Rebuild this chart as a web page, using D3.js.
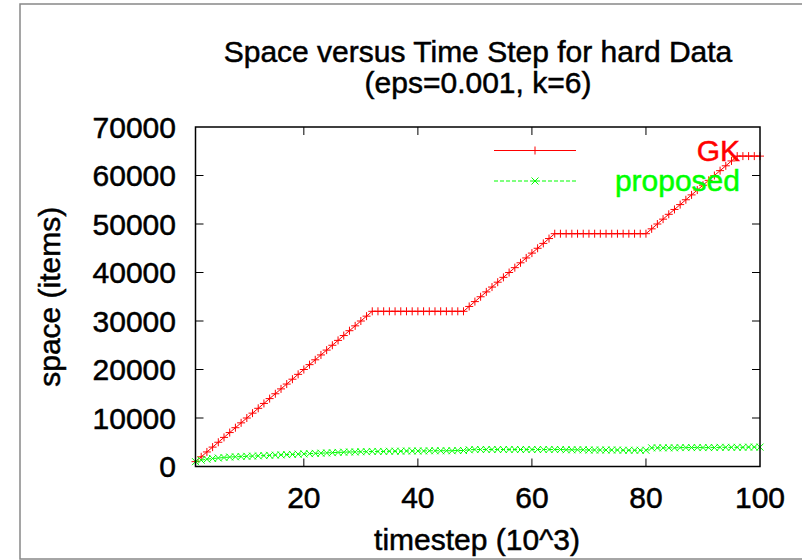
<!DOCTYPE html>
<html>
<head>
<meta charset="utf-8">
<script src="https://cdn.jsdelivr.net/npm/d3@7"></script>
<style>
  body { margin: 0; background: #fff; }
  svg { display: block; font-family: "Liberation Sans", Arial, sans-serif; }
</style>
</head>
<body>
<div id="chart"></div>
<script>
// timestep in units of 10^3
const timesteps = [
  1, 2, 3, 4, 5, 6, 7, 8, 9, 10, 11, 12, 13, 14, 15, 16, 17, 18, 19, 20,
  21, 22, 23, 24, 25, 26, 27, 28, 29, 30, 31, 32, 33, 34, 35, 36, 37, 38, 39, 40,
  41, 42, 43, 44, 45, 46, 47, 48, 49, 50, 51, 52, 53, 54, 55, 56, 57, 58, 59, 60,
  61, 62, 63, 64, 65, 66, 67, 68, 69, 70, 71, 72, 73, 74, 75, 76, 77, 78, 79, 80,
  81, 82, 83, 84, 85, 86, 87, 88, 89, 90, 91, 92, 93, 94, 95, 96, 97, 98, 99, 100
];

const gkSpace = [
  1000, 2000, 3000, 4000, 5000, 6000, 7000, 8000, 9000, 10000,
  11000, 12000, 13000, 14000, 15000, 16000, 17000, 18000, 19000, 20000,
  21000, 22000, 23000, 24000, 25000, 26000, 27000, 28000, 29000, 30000,
  31000, 32000, 32000, 32000, 32000, 32000, 32000, 32000, 32000, 32000,
  32000, 32000, 32000, 32000, 32000, 32000, 32000, 32000, 33000, 34000,
  35000, 36000, 37000, 38000, 39000, 40000, 41000, 42000, 43000, 44000,
  45000, 46000, 47000, 48000, 48000, 48000, 48000, 48000, 48000, 48000,
  48000, 48000, 48000, 48000, 48000, 48000, 48000, 48000, 48000, 48000,
  49000, 50000, 51000, 52000, 53000, 54000, 55000, 56000, 57000, 58000,
  59000, 60000, 61000, 62000, 63000, 64000, 64000, 64000, 64000, 64000
];

const proposedSpace = [
  1000, 1300, 1500, 1650, 1750, 1850, 1950, 2000, 2050, 2100,
  2150, 2200, 2250, 2300, 2350, 2400, 2450, 2500, 2550, 2600,
  2650, 2700, 2750, 2800, 2850, 2900, 2950, 3000, 3000, 3050,
  3050, 3100, 3100, 3100, 3150, 3150, 3150, 3200, 3200, 3200,
  3200, 3250, 3250, 3250, 3250, 3250, 3300, 3300, 3450, 3500,
  3500, 3500, 3500, 3500, 3500, 3500, 3500, 3500, 3500, 3500,
  3500, 3500, 3500, 3500, 3500, 3450, 3450, 3450, 3450, 3400,
  3400, 3400, 3400, 3400, 3400, 3350, 3350, 3350, 3350, 3350,
  3850, 3850, 3850, 3850, 3850, 3900, 3900, 3900, 3900, 3900,
  3900, 3900, 3950, 3950, 3950, 3950, 3950, 4000, 4000, 4000
];

const xTicks = [20, 40, 60, 80, 100];
const yTicks = [0, 10000, 20000, 30000, 40000, 50000, 60000, 70000];
const seriesNames = ['GK', 'proposed'];
const titleLines = ['Space versus Time Step for hard Data', '(eps=0.001, k=6)'];

const width = 802, height = 560;
const plot = { left: 195.5, right: 760, top: 127, bottom: 466.5 };
const FONT = 30;

const svg = d3.select('#chart').append('svg')
  .attr('width', width)
  .attr('height', height);

// gnuplot text looks heavy, so thicken glyphs a little
function heavy(sel, color) {
  return sel.attr('fill', color).attr('stroke', color).attr('stroke-width', 0.5);
}

// outer gray frame
svg.append('rect')
  .attr('x', 20).attr('y', 4)
  .attr('width', 800).attr('height', 555)
  .attr('fill', 'none')
  .attr('stroke', '#888')
  .attr('stroke-width', 1.5);

const x = d3.scaleLinear().domain([1, 100]).range([plot.left, plot.right]);
const y = d3.scaleLinear().domain([0, 70000]).range([plot.bottom, plot.top]);

// title
heavy(svg.append('g'), '#000').selectAll('text')
  .data(titleLines)
  .join('text')
  .attr('x', 478)
  .attr('y', (d, i) => 62 + i * 31)
  .attr('text-anchor', 'middle')
  .attr('font-size', FONT)
  .text(d => d);

// tick marks (gnuplot style, inward, mirrored)
const tickLen = 8;
const ticks = svg.append('g').attr('stroke', '#000').attr('stroke-width', 1);
xTicks.filter(d => d < 100).forEach(d => {
  ticks.append('line').attr('x1', x(d)).attr('x2', x(d))
    .attr('y1', plot.bottom).attr('y2', plot.bottom - tickLen);
  ticks.append('line').attr('x1', x(d)).attr('x2', x(d))
    .attr('y1', plot.top).attr('y2', plot.top + tickLen);
});
yTicks.filter(d => d > 0 && d < 70000).forEach(d => {
  ticks.append('line').attr('x1', plot.left).attr('x2', plot.left + tickLen)
    .attr('y1', y(d)).attr('y2', y(d));
  ticks.append('line').attr('x1', plot.right).attr('x2', plot.right - tickLen)
    .attr('y1', y(d)).attr('y2', y(d));
});

// tick labels
heavy(svg.append('g'), '#000').selectAll('text')
  .data(xTicks)
  .join('text')
  .attr('x', d => x(d))
  .attr('y', 508)
  .attr('text-anchor', 'middle')
  .attr('font-size', FONT)
  .text(d => d);

heavy(svg.append('g'), '#000').selectAll('text')
  .data(yTicks)
  .join('text')
  .attr('x', 176)
  .attr('y', d => y(d))
  .attr('dy', '0.36em')
  .attr('text-anchor', 'end')
  .attr('font-size', FONT)
  .text(d => d);

// axis titles
heavy(svg.append('text'), '#000')
  .attr('x', 477).attr('y', 550)
  .attr('text-anchor', 'middle')
  .attr('font-size', FONT)
  .text('timestep (10^3)');

heavy(svg.append('text'), '#000')
  .attr('transform', `translate(60,${(plot.top + plot.bottom) / 2}) rotate(-90)`)
  .attr('text-anchor', 'middle')
  .attr('font-size', FONT)
  .text('space (items)');

// markers
function plusPath(cx, cy, r) {
  return `M${cx - r},${cy}H${cx + r}M${cx},${cy - r}V${cy + r}`;
}
function crossPath(cx, cy, r) {
  return `M${cx - r},${cy - r}L${cx + r},${cy + r}M${cx - r},${cy + r}L${cx + r},${cy - r}`;
}

const gkData = timesteps.map((t, i) => [t, gkSpace[i]]);
const propData = timesteps.map((t, i) => [t, proposedSpace[i]]);
const line = d3.line().x(d => x(d[0])).y(d => y(d[1]));

const RED = '#ff0000', GREEN = '#00ff00';

svg.append('path')
  .datum(gkData)
  .attr('d', line)
  .attr('fill', 'none')
  .attr('stroke', RED)
  .attr('stroke-width', 1);
svg.append('path')
  .attr('d', gkData.map(d => plusPath(x(d[0]), y(d[1]), 4)).join(''))
  .attr('fill', 'none')
  .attr('stroke', RED)
  .attr('stroke-width', 1);

svg.append('path')
  .datum(propData)
  .attr('d', line)
  .attr('fill', 'none')
  .attr('stroke', GREEN)
  .attr('stroke-width', 1)
  .attr('stroke-dasharray', '4,2');
svg.append('path')
  .attr('d', propData.map(d => crossPath(x(d[0]), y(d[1]), 3.5)).join(''))
  .attr('fill', 'none')
  .attr('stroke', GREEN)
  .attr('stroke-width', 1);

// plot border
svg.append('rect')
  .attr('x', plot.left).attr('y', plot.top)
  .attr('width', plot.right - plot.left)
  .attr('height', plot.bottom - plot.top)
  .attr('fill', 'none')
  .attr('stroke', '#000')
  .attr('stroke-width', 1.5);

// legend
const legendRows = [
  { name: seriesNames[0], color: RED, dash: null, marker: plusPath, r: 4, y: 150.5 },
  { name: seriesNames[1], color: GREEN, dash: '4,2', marker: crossPath, r: 3.5, y: 181 }
];
legendRows.forEach(row => {
  svg.append('line')
    .attr('x1', 494).attr('x2', 576)
    .attr('y1', row.y).attr('y2', row.y)
    .attr('stroke', row.color)
    .attr('stroke-width', 1)
    .attr('stroke-dasharray', row.dash);
  svg.append('path')
    .attr('d', row.marker(535, row.y, row.r))
    .attr('stroke', row.color)
    .attr('fill', 'none');
  heavy(svg.append('text'), row.color)
    .attr('x', 740).attr('y', row.y + 10)
    .attr('text-anchor', 'end')
    .attr('font-size', FONT)
    .text(row.name);
});
</script>
</body>
</html>
